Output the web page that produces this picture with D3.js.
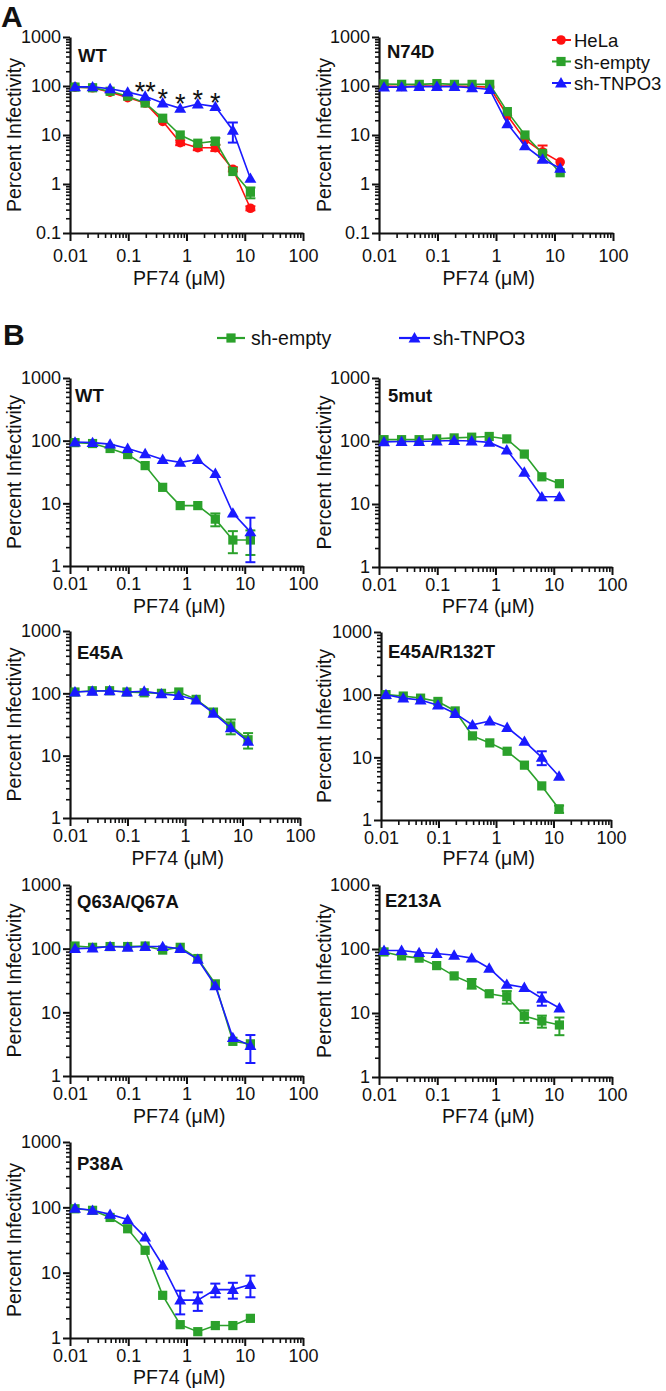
<!DOCTYPE html>
<html><head><meta charset="utf-8">
<script src="https://cdn.jsdelivr.net/npm/d3@7"></script>
<style>
body{margin:0;background:#fff}
text{font-family:"Liberation Sans",Arial,Helvetica,sans-serif;fill:#111}
</style>
</head><body>
<svg id="c" width="666" height="1391"></svg>
<script>
// ---------------- DATA ----------------
const doses = [0.0122, 0.0244, 0.0488, 0.0977, 0.195, 0.39, 0.78, 1.5625, 3.125, 6.25, 12.5];
const xTickValues = [0.01, 0.1, 1, 10, 100];
const xTickLabels = ["0.01", "0.1", "1", "10", "100"];
const yTickValuesA = [0.1, 1, 10, 100, 1000];
const yTickLabelsA = ["0.1", "1", "10", "100", "1000"];
const yTickValuesB = [1, 10, 100, 1000];
const yTickLabelsB = ["1", "10", "100", "1000"];
const seriesNames = ["HeLa", "sh-empty", "sh-TNPO3"];
const seriesColors = ["#ff1010", "#2ba12b", "#1a1aff"];
const xTitle = "PF74 (\u03bcM)";
const yTitle = "Percent Infectivity";

// Panel A – WT
const aWT_HeLa      = [95, 92, 75, 58, 45, 19, 7, 5.5, 5.5, 2.0, 0.32];
const aWT_HeLa_err  = [0, 0, 0, 0, 0, 0, 0.8, 0.6, 0.8, 0.2, 0.03];
const aWT_empty     = [95, 92, 78, 62, 45, 22, 10, 6.8, 7.5, 1.8, 0.68];
const aWT_empty_err = [0, 0, 0, 0, 0, 0, 0, 0, 1.2, 0, 0.17];
const aWT_TNPO3     = [96, 96, 88, 75, 62, 45, 35, 43, 38, 12.5, 1.3];
const aWT_TNPO3_err = [0, 0, 0, 0, 0, 0, 0, 0, 0, 5.5, 0];
const aWT_stars     = ["", "", "", "", "**", "*", "*", "*", "*", "", ""];

// Panel A – N74D
const aN74D_HeLa      = [100, 98, 100, 100, 100, 98, 95, 25, 8, 4.5, 2.8];
const aN74D_HeLa_err  = [0, 0, 0, 0, 0, 0, 0, 0, 0, 1.6, 0];
const aN74D_empty     = [110, 108, 108, 112, 108, 108, 108, 30, 10, 4.2, 1.7];
const aN74D_empty_err = [0, 0, 0, 0, 0, 0, 0, 0, 0, 0, 0];
const aN74D_TNPO3     = [95, 95, 97, 98, 97, 92, 85, 17, 6, 3.2, 2.1];
const aN74D_TNPO3_err = [0, 0, 0, 0, 0, 0, 0, 0, 0, 0, 0];

// Panel B – WT
const bWT_empty      = [93, 90, 75, 60, 40, 18, 9.2, 9.2, 5.6, 2.6, 2.6];
const bWT_empty_err  = [0, 0, 0, 0, 0, 0, 0, 0, 1.3, 1.0, 1.1];
const bWT_TNPO3      = [95, 93, 88, 75, 62, 50, 45, 50, 30, 7, 3.5];
const bWT_TNPO3_err  = [0, 0, 0, 0, 0, 0, 0, 0, 0, 0, 2.4];

// Panel B – 5mut
const b5mut_empty     = [105, 105, 105, 108, 112, 115, 118, 108, 62, 27, 21];
const b5mut_empty_err = [0, 0, 0, 0, 0, 0, 0, 0, 0, 0, 0];
const b5mut_TNPO3     = [97, 98, 98, 100, 102, 100, 95, 72, 32, 13, 13];
const b5mut_TNPO3_err = [0, 0, 0, 0, 0, 0, 0, 0, 0, 0, 0];

// Panel B – E45A
const bE45A_empty     = [105, 110, 110, 105, 102, 100, 105, 80, 50, 30, 18];
const bE45A_empty_err = [0, 0, 0, 0, 0, 0, 0, 0, 0, 8, 5];
const bE45A_TNPO3     = [105, 108, 110, 105, 108, 98, 92, 78, 48, 28, 17];
const bE45A_TNPO3_err = [0, 0, 0, 0, 0, 0, 0, 0, 0, 0, 0];

// Panel B – E45A/R132T
const bR132T_empty     = [100, 95, 88, 78, 55, 22, 17, 12.5, 7.5, 3.5, 1.5];
const bR132T_empty_err = [0, 0, 0, 0, 0, 0, 0, 0, 0, 0, 0.2];
const bR132T_TNPO3     = [100, 88, 82, 68, 50, 33, 38, 30, 18, 10, 5];
const bR132T_TNPO3_err = [0, 0, 0, 0, 0, 0, 0, 0, 0, 2.5, 0];

// Panel B – Q63A/Q67A
const bQ63A_empty     = [110, 105, 108, 108, 110, 95, 105, 70, 28, 3.5, 3.2];
const bQ63A_empty_err = [0, 0, 0, 0, 0, 0, 0, 0, 0, 0, 0];
const bQ63A_TNPO3     = [100, 102, 108, 105, 108, 108, 100, 68, 26, 4, 3];
const bQ63A_TNPO3_err = [0, 0, 0, 0, 0, 0, 0, 0, 0, 0, 1.4];

// Panel B – E213A
const bE213A_empty     = [90, 78, 72, 55, 38, 29, 20, 18, 9, 7.5, 6.5];
const bE213A_empty_err = [0, 0, 0, 0, 0, 5, 0, 4, 2, 1.6, 2];
const bE213A_TNPO3     = [95, 95, 88, 85, 80, 72, 50, 28, 25, 17, 12];
const bE213A_TNPO3_err = [0, 0, 0, 0, 0, 0, 0, 0, 0, 4, 0];

// Panel B – P38A
const bP38A_empty     = [95, 90, 70, 47, 22, 4.5, 1.6, 1.25, 1.55, 1.55, 2.0];
const bP38A_empty_err = [0, 0, 0, 0, 0, 0, 0, 0, 0, 0, 0];
const bP38A_TNPO3     = [97, 90, 78, 65, 35, 13, 3.8, 3.8, 5.5, 5.5, 6.6];
const bP38A_TNPO3_err = [0, 0, 0, 0, 0, 0, 1.5, 1.2, 1.3, 1.5, 2.4];

// ---------------- LAYOUT ----------------
const panels = [
  {name:"WT", x0:70, x1:303, yTop:37, yBot:233, yMin:0.1, labX:78, labY:62, tickPad:8, titleY:285,
   series:[[0,aWT_HeLa,aWT_HeLa_err],[1,aWT_empty,aWT_empty_err],[2,aWT_TNPO3,aWT_TNPO3_err]], stars:aWT_stars},
  {name:"N74D", x0:379, x1:613, yTop:37, yBot:233, yMin:0.1, labX:387, labY:58, tickPad:8, titleY:285,
   series:[[0,aN74D_HeLa,aN74D_HeLa_err],[1,aN74D_empty,aN74D_empty_err],[2,aN74D_TNPO3,aN74D_TNPO3_err]]},
  {name:"WT", x0:70, x1:303, yTop:378, yBot:566, yMin:1, labX:75, labY:402, tickPad:3, titleY:613,
   series:[[1,bWT_empty,bWT_empty_err],[2,bWT_TNPO3,bWT_TNPO3_err]]},
  {name:"5mut", x0:379, x1:612, yTop:378, yBot:567, yMin:1, labX:388, labY:402, tickPad:3, titleY:613,
   series:[[1,b5mut_empty,b5mut_empty_err],[2,b5mut_TNPO3,b5mut_TNPO3_err]]},
  {name:"E45A", x0:70, x1:300, yTop:631, yBot:818, yMin:1, labX:77, labY:659, tickPad:3, titleY:865,
   series:[[1,bE45A_empty,bE45A_empty_err],[2,bE45A_TNPO3,bE45A_TNPO3_err]]},
  {name:"E45A/R132T", x0:381, x1:611, yTop:632, yBot:820, yMin:1, labX:388, labY:658, tickPad:3, titleY:865,
   series:[[1,bR132T_empty,bR132T_empty_err],[2,bR132T_TNPO3,bR132T_TNPO3_err]]},
  {name:"Q63A/Q67A", x0:70, x1:303, yTop:885, yBot:1076, yMin:1, labX:77, labY:908, tickPad:3, titleY:1123,
   series:[[1,bQ63A_empty,bQ63A_empty_err],[2,bQ63A_TNPO3,bQ63A_TNPO3_err]]},
  {name:"E213A", x0:379, x1:612, yTop:885, yBot:1077, yMin:1, labX:385, labY:907, tickPad:3, titleY:1123,
   series:[[1,bE213A_empty,bE213A_empty_err],[2,bE213A_TNPO3,bE213A_TNPO3_err]]},
  {name:"P38A", x0:70, x1:303, yTop:1142, yBot:1338, yMin:1, labX:77, labY:1170, tickPad:3, titleY:1384,
   series:[[1,bP38A_empty,bP38A_empty_err],[2,bP38A_TNPO3,bP38A_TNPO3_err]]}
];

const svg = d3.select("#c");

function minorTicks(lo, hi){
  const out=[];
  for(let e=Math.round(Math.log10(lo)); e<Math.round(Math.log10(hi)); e++){
    for(let m=2;m<=9;m++) out.push(m*Math.pow(10,e));
  }
  return out;
}

function drawMarker(g, k, cx, cy){
  const col = seriesColors[k];
  if(k===0){
    g.append("circle").attr("cx",cx).attr("cy",cy).attr("r",4.8).attr("fill",col);
  } else if(k===1){
    g.append("rect").attr("x",cx-4.6).attr("y",cy-4.6).attr("width",9.2).attr("height",9.2).attr("fill",col);
  } else {
    g.append("path").attr("d",d3.symbol(d3.symbolTriangle).size(62)())
      .attr("transform",`translate(${cx},${cy+1})`).attr("fill",col);
  }
}

panels.forEach(p=>{
  const x = d3.scaleLog().domain([0.01,100]).range([p.x0,p.x1]);
  const y = d3.scaleLog().domain([p.yMin,1000]).range([p.yBot,p.yTop]);
  const isA = p.yMin===0.1;
  const yVals = isA ? yTickValuesA : yTickValuesB;
  const yLabs = isA ? yTickLabelsA : yTickLabelsB;
  const g = svg.append("g");

  // x axis minor ticks
  g.append("g").attr("transform",`translate(0,${p.yBot})`)
    .call(d3.axisBottom(x).tickValues(minorTicks(0.01,100)).tickFormat("").tickSize(5).tickSizeOuter(0))
    .call(a=>{a.select(".domain").remove();a.selectAll("line").attr("stroke","#111").attr("stroke-width",1.6);});
  // x axis major
  g.append("g").attr("transform",`translate(0,${p.yBot})`)
    .call(d3.axisBottom(x).tickValues(xTickValues).tickFormat((d,i)=>xTickLabels[i]).tickSize(8).tickSizeOuter(0).tickPadding(p.tickPad))
    .call(a=>{a.select(".domain").attr("stroke","#111").attr("stroke-width",2.2);
      a.selectAll("line").attr("stroke","#111").attr("stroke-width",2);
      a.selectAll("text").attr("font-size",18).attr("fill","#111")
       .attr("font-family","'Liberation Sans',Arial,sans-serif");});

  // y axis minor ticks
  g.append("g").attr("transform",`translate(${p.x0},0)`)
    .call(d3.axisLeft(y).tickValues(minorTicks(p.yMin,1000)).tickFormat("").tickSize(4).tickSizeOuter(0))
    .call(a=>{a.select(".domain").remove();a.selectAll("line").attr("stroke","#111").attr("stroke-width",1.6);});
  // y axis major
  g.append("g").attr("transform",`translate(${p.x0},0)`)
    .call(d3.axisLeft(y).tickValues(yVals).tickFormat((d,i)=>yLabs[i]).tickSize(7).tickSizeOuter(0).tickPadding(2))
    .call(a=>{a.select(".domain").attr("stroke","#111").attr("stroke-width",2.2);
      a.selectAll("line").attr("stroke","#111").attr("stroke-width",2);
      a.selectAll("text").attr("font-size",18).attr("fill","#111")
       .attr("font-family","'Liberation Sans',Arial,sans-serif");});

  // titles
  g.append("text").attr("x",x(0.75)).attr("y",p.titleY).attr("text-anchor","middle")
    .attr("font-size",19.5).text(xTitle);
  const ym = (p.yTop+p.yBot)/2;
  const yx = p.x0 < 200 ? 21 : 331;
  g.append("text").attr("transform",`translate(${yx},${ym}) rotate(-90)`).attr("text-anchor","middle")
    .attr("font-size",19.5).text(yTitle);
  g.append("text").attr("x",p.labX).attr("y",p.labY).attr("font-size",18.5).attr("font-weight","bold").text(p.name);

  // series
  const line = d3.line().x(d=>x(d[0])).y(d=>y(d[1]));
  p.series.forEach(([k,vals,errs])=>{
    const col = seriesColors[k];
    const sg = g.append("g");
    const pts = doses.map((d,i)=>[d,vals[i]]);
    sg.append("path").attr("d",line(pts)).attr("fill","none").attr("stroke",col).attr("stroke-width",1.6);
    doses.forEach((d,i)=>{
      const e = errs[i];
      if(e>0){
        const lo = Math.max(vals[i]-e, p.yMin*1.15);
        const hi = vals[i]+e;
        const cx = x(d);
        sg.append("line").attr("x1",cx).attr("x2",cx).attr("y1",y(lo)).attr("y2",y(hi)).attr("stroke",col).attr("stroke-width",2);
        [lo,hi].forEach(v=>sg.append("line").attr("x1",cx-5).attr("x2",cx+5).attr("y1",y(v)).attr("y2",y(v)).attr("stroke",col).attr("stroke-width",2));
      }
      drawMarker(sg,k,x(d),y(vals[i]));
    });
  });

  if(p.stars){
    const top = p.series[p.series.length-1][1];
    doses.forEach((d,i)=>{
      if(p.stars[i]) g.append("text").attr("x",x(d)).attr("y",y(top[i])+5).attr("text-anchor","middle")
        .attr("font-size",27).text(p.stars[i]);
    });
  }
});

// big panel letters
svg.append("text").attr("x",1).attr("y",27).attr("font-size",30).attr("font-weight","bold").text("A");
svg.append("text").attr("x",3).attr("y",345).attr("font-size",30).attr("font-weight","bold").text("B");

// legend A
const legA = svg.append("g");
[0,1,2].forEach(k=>{
  const cy = 40 + k*21.5;
  legA.append("line").attr("x1",552).attr("x2",571).attr("y1",cy).attr("y2",cy).attr("stroke",seriesColors[k]).attr("stroke-width",2);
  drawMarker(legA,k,561,cy);
  legA.append("text").attr("x",574).attr("y",cy+7).attr("font-size",18.5).text(seriesNames[k]);
});
// legend B
const legB = svg.append("g");
[[1,217,245,251],[2,399,430,433]].forEach(([k,xa,xb,tx])=>{
  const cy = 338;
  legB.append("line").attr("x1",xa).attr("x2",xb).attr("y1",cy).attr("y2",cy).attr("stroke",seriesColors[k]).attr("stroke-width",2.2);
  drawMarker(legB,k,(xa+xb)/2,cy);
  legB.append("text").attr("x",tx).attr("y",cy+7).attr("font-size",19.5).text(seriesNames[k]);
});
</script>
</body></html>
